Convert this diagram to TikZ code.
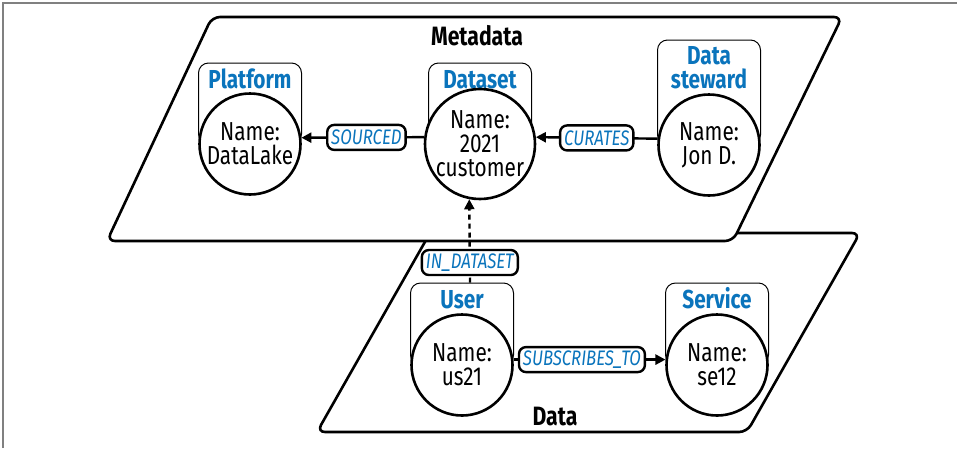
\documentclass[tikz,border=0pt]{standalone}
\usepackage{fontspec}
\setmainfont{Fira Sans}[FakeStretch=0.8]
\usetikzlibrary{arrows.meta}
\definecolor{nblue}{HTML}{0A74BC}
\begin{document}
\begin{tikzpicture}[x=1pt,y=-1pt,
 plane/.style={draw, line width=2.6pt, fill=white, rounded corners=8pt, line join=round},
 tbox/.style={draw, line width=1pt, rounded corners=10pt, minimum width=103pt, inner sep=0pt},
 circ/.style={draw, circle, line width=2.6pt, fill=white, minimum size=101pt, inner sep=0pt, align=center, font=\fontsize{26}{24}\selectfont},
 ttl/.style={font=\bfseries\fontsize{26}{24.5}\selectfont, text=nblue, align=center, inner sep=0pt},
 elabel/.style={draw, solid, line width=2.4pt, rounded corners=7pt, fill=white, font=\itshape\fontsize{21}{22}\selectfont, text=nblue, minimum height=25pt, inner xsep=4pt, inner ysep=0pt},
 arr/.style={line width=2.4pt, -{Triangle[length=10pt,width=10pt]}},
 dasharr/.style={arr, dash pattern=on 5pt off 4pt},
 plabel/.style={font=\bfseries\fontsize{26.5}{24}\selectfont, inner sep=0pt, anchor=base},
 frame/.style={draw=gray, line width=1.5pt}]
\useasboundingbox (0,0) rectangle (957,448);
\draw[frame] (3,448) -- (3,3) -- (957,3);
% planes
\draw[plane] (600,233) -- (860,233) -- (747,432) -- (317,432) -- (430,233) -- cycle;
\draw[plane] (500,17) -- (842,17) -- (733,241) -- (107,241) -- (212,17) -- cycle;
\node[plabel] (mtitle) at (477,45) {Metadata};
\node[plabel] (dtitle) at (555,425) {Data};
% title boxes
\node[tbox, minimum height=81pt] (pfbox) at (250,103.5) {};
\node[tbox, minimum height=81pt] (dsbox) at (480,103.5) {};
\node[tbox, minimum height=105pt] (stbox) at (709,92.5) {};
\node[tbox, minimum height=82pt] (usbox) at (462,324) {};
\node[tbox, minimum height=82pt] (svbox) at (717,324) {};
\node[ttl, anchor=base] (pft) at (250,88) {Platform};
\node[ttl, anchor=base] (dst) at (480,88) {Dataset};
\node[ttl, anchor=base] (stt) at (709,88.5) {Data\\steward};
\node[ttl, anchor=base] (ust) at (462,308) {User};
\node[ttl, anchor=base] (svt) at (717,308) {Service};
% circles
\node[circ] (pf) at (250,144) {Name:\\DataLake};
\node[circ] (ds) at (480,144) {Name:\\2021\\customer};
\node[circ] (st) at (709,145) {Name:\\Jon D.};
\node[circ] (us) at (462,365) {Name:\\us21};
\node[circ] (sv) at (717,365) {Name:\\se12};
% edges
\draw[arr] (ds.173) -- node[elabel, pos=0.47] (lsrc) {SOURCED} (pf.7);
\draw[arr] (st.173) -- node[elabel, pos=0.5] (lcur) {CURATES} (ds.7);
\draw[arr] (us.6) -- node[elabel, pos=0.45] (lsub) {SUBSCRIBES\_TO} (sv.174);
\draw[dasharr] ([xshift=8pt]usbox.north) -- node[elabel, pos=0.24] (lind) {IN\_DATASET} (ds.259);
\end{tikzpicture}
\end{document}
